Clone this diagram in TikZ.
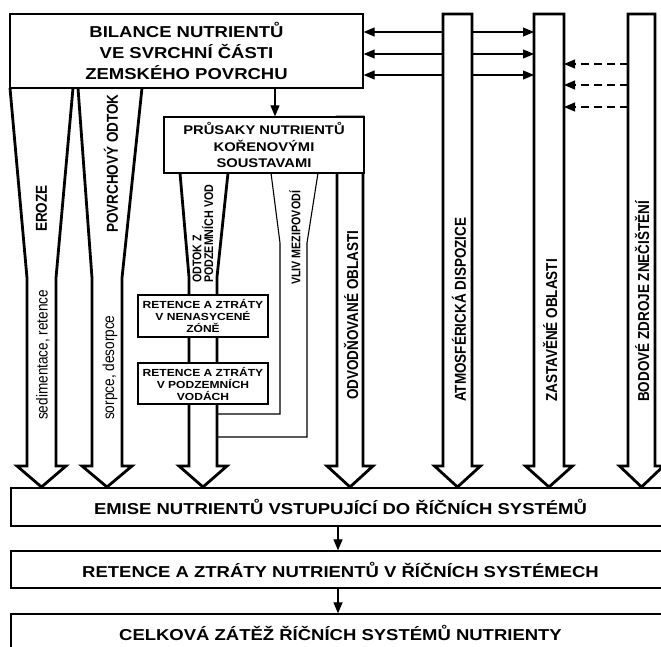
\documentclass[tikz,border=0pt]{standalone}
\usepackage{fontspec}
\setmainfont{Liberation Sans}
\newfontfamily\widefont{Liberation Sans}[FakeStretch=1.17]
\usetikzlibrary{arrows.meta}

\tikzset{
  box/.style={draw, line width=1.3pt, fill=white, inner sep=0pt, align=center},
  flow/.style={draw, line width=2.8pt, fill=white, line join=miter},
  side/.style={draw, line width=1.1pt},
  link/.style={-{Triangle[length=11pt,width=9pt]}, line width=1.2pt},
  vlabel/.style={xscale=1.17, rotate=90, anchor=west, inner sep=0pt,
    font=\bfseries\fontsize{13.5}{15}\selectfont},
  vsmall/.style={vlabel, align=left, font=\bfseries\fontsize{10.7}{10}\selectfont},
  vplain/.style={vlabel, font=\fontsize{13.6}{15}\selectfont},
}

\begin{document}
\begin{tikzpicture}[x=1pt,y=-1pt]
  \useasboundingbox (0,0) rectangle (661,647);
  \clip (0,0) rectangle (661,647);

  % sloupce vpravo
  \foreach \xl/\xr in {443/472, 534/564, 628/655}
    \draw[flow] (\xl,14) -- (\xl,466) -- (\xl-8.5,466) -- ({(\xl+\xr)/2},487)
      -- (\xr+8.5,466) -- (\xr,466) -- (\xr,14) -- cycle;
  \coordinate (atmL) at (443,0);
  \coordinate (atmR) at (472,0);
  \coordinate (zasL) at (534,0);
  \coordinate (zasR) at (564,0);
  \coordinate (bodL) at (628,0);

  % eroze a povrchovy odtok
  \draw[flow] (10,88) -- (27,278) -- (27,466) -- (17,466) -- (41.5,487)
    -- (66,466) -- (56,466) -- (56,278) -- (73,88);
  \draw[flow] (78,88) -- (92,278) -- (92,466) -- (82,466) -- (107,487)
    -- (132,466) -- (122,466) -- (122,278) -- (142,88);

  % odvodnovane oblasti
  \draw[flow] (337,117) -- (337,466) -- (327,466) -- (350,487)
    -- (373,466) -- (363,466) -- (363,117) -- cycle;

  % odtok z podzemnich vod
  \draw[flow] (180,173) -- (189,277) -- (189,466) -- (179,466) -- (203,487)
    -- (227,466) -- (217,466) -- (217,277) -- (228,173);

  % vliv mezipovodi
  \draw[side] (271,173) -- (280,243) -- (280,414) -- (217,414);
  \draw[side] (318,173) -- (307,243) -- (307,437) -- (217,437);

  % bloky
  \node[box, minimum width=353pt, minimum height=74pt,
    font=\widefont\bfseries\fontsize{15.8}{21}\selectfont] (bil) at (186.5,51)
    {BILANCE NUTRIENTŮ\\VE SVRCHNÍ ČÁSTI\\ZEMSKÉHO POVRCHU};
  \node[box, minimum width=200pt, minimum height=56pt,
    font=\widefont\bfseries\fontsize{12.6}{16.7}\selectfont] (pru) at (264,145)
    {PRŮSAKY NUTRIENTŮ\\KOŘENOVÝMI\\SOUSTAVAMI};
  \node[box, minimum width=130pt, minimum height=42pt,
    font=\widefont\bfseries\fontsize{10.3}{12}\selectfont] (nen) at (203,316)
    {RETENCE A ZTRÁTY\\V NENASYCENÉ\\ZÓNĚ};
  \node[box, minimum width=130pt, minimum height=41pt,
    font=\widefont\bfseries\fontsize{10.3}{12}\selectfont] (pod) at (203,383.5)
    {RETENCE A ZTRÁTY\\V PODZEMNÍCH\\VODÁCH};

  \node[box, minimum width=659pt, minimum height=38pt,
    font=\widefont\bfseries\fontsize{15.8}{18}\selectfont] (emi) at (340.5,507)
    {EMISE NUTRIENTŮ VSTUPUJÍCÍ DO ŘÍČNÍCH SYSTÉMŮ};
  \node[box, minimum width=659pt, minimum height=37pt,
    font=\widefont\bfseries\fontsize{15.8}{18}\selectfont] (ret) at (340.5,569.5)
    {RETENCE A ZTRÁTY NUTRIENTŮ V ŘÍČNÍCH SYSTÉMECH};
  \node[box, minimum width=659pt, minimum height=38pt,
    font=\widefont\bfseries\fontsize{15.8}{18}\selectfont] (cel) at (340.5,633)
    {CELKOVÁ ZÁTĚŽ ŘÍČNÍCH SYSTÉMŮ NUTRIENTY};

  % spojky
  \coordinate (c1) at (275,0);
  \coordinate (c2) at (338,0);
  \draw[link] (c1 |- bil.south) -- (c1 |- pru.north);
  \draw[link] (c2 |- emi.south) -- (c2 |- ret.north);
  \draw[link] (c2 |- ret.south) -- (c2 |- cel.north);
  \foreach \y in {32,54,75} {
    \draw[link] (atmL |- 0,\y) -- (bil.east |- 0,\y);
    \draw[link] (atmR |- 0,\y) -- (zasL |- 0,\y);
  }
  \foreach \y in {64,85,107}
    \draw[link, dash pattern=on 8pt off 5pt] (bodL |- 0,\y) -- (zasR |- 0,\y);

  % popisky
  \node[vlabel] (ero) at (41.5,232) {EROZE};
  \node[vlabel] (pov) at (111,233) {POVRCHOVÝ ODTOK};
  \node[vplain] (sed) at (43,420) {sedimentace, retence};
  \node[vplain] (sor) at (110,420) {sorpce, desorpce};
  \node[vsmall] (odt) at (203,283) {ODTOK Z\\PODZEMNÍCH VOD};
  \node[vsmall] (vli) at (295,285) {VLIV MEZIPOVODÍ};
  \node[vlabel] (odv) at (351,400) {ODVODŇOVANÉ OBLASTI};
  \node[vlabel] (atm) at (459,402) {ATMOSFÉRICKÁ DISPOZICE};
  \node[vlabel] (zas) at (550,402) {ZASTAVĚNÉ OBLASTI};
  \node[vlabel] (bod) at (642,402) {BODOVÉ ZDROJE ZNEČIŠTĚNÍ};
\end{tikzpicture}
\end{document}
